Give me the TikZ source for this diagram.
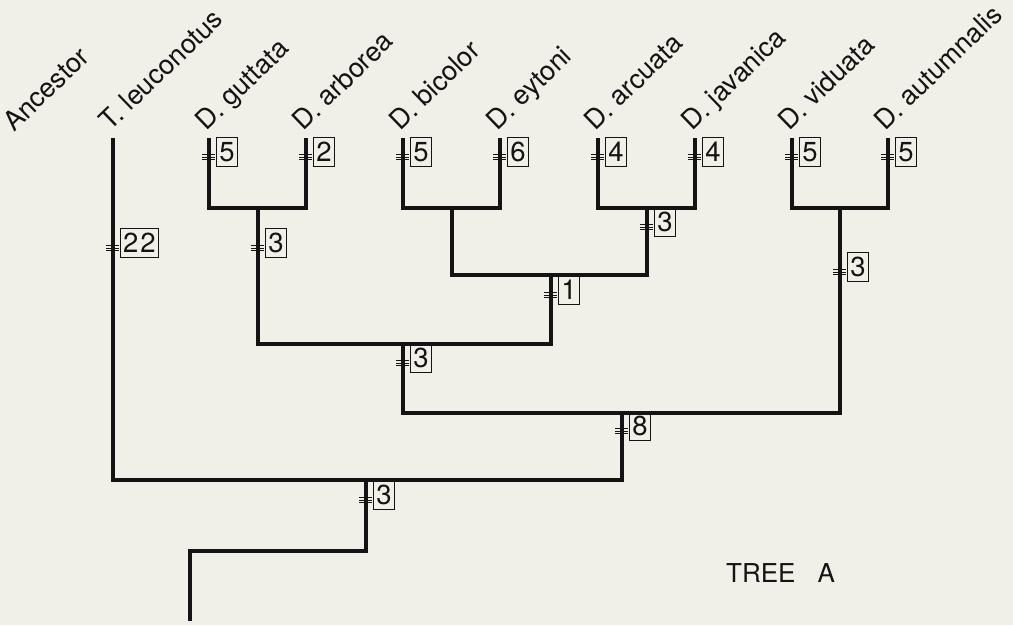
\documentclass[tikz,border=0pt]{standalone}
\usepackage{fontspec}
\setmainfont{TeX Gyre Heros}
\definecolor{paper}{RGB}{240,239,232}
\definecolor{ink}{RGB}{20,20,20}
\newcommand\chgbox[4]{%
  \node[cbox] (#1) at ({#2+7},{#3}) {#4};
  \draw[tickmark] ({#2-7},{#3+17.5}) -- ({#2+6},{#3+17.5});
  \draw[tickmark] ({#2-7},{#3+20.2}) -- ({#2+6},{#3+20.2});
  \draw[tickmark] ({#2-7},{#3+22.9}) -- ({#2+6},{#3+22.9});
}
\begin{document}
\begin{tikzpicture}[x=1pt,y=-1pt,
  branch/.style={draw=ink,line width=3.8pt,line cap=butt,line join=miter},
  cbox/.style={draw=ink,line width=1pt,anchor=north west,minimum width=21pt,minimum height=29pt,inner xsep=2.6pt,inner ysep=3pt,text=ink,font=\fontsize{27.5}{30}\selectfont},
  tickmark/.style={draw=ink,line width=0.9pt},
  lbl/.style={rotate=44,anchor=base west,inner sep=0pt,text=ink,font=\fontsize{27}{30}\selectfont}]
\fill[paper] (0,0) rectangle (1013,625);
\useasboundingbox (0,0) rectangle (1013,625);
% leaf tops
\coordinate (lT) at (113,138);
\coordinate (lG) at (209,138);
\coordinate (lA) at (306,138);
\coordinate (lB) at (403,138);
\coordinate (lE) at (500,138);
\coordinate (lC) at (598,138);
\coordinate (lJ) at (695,138);
\coordinate (lV) at (792,138);
\coordinate (lU) at (888,138);
% junctions
\coordinate (jGA) at (258,208);
\coordinate (jBE) at (452,208);
\coordinate (jAJ) at (647,208);
\coordinate (jVA) at (840,208);
\coordinate (jBA) at (551,275);
\coordinate (j3) at (403,344);
\coordinate (j8) at (622,413);
\coordinate (j0) at (366,480);
\coordinate (jR) at (190,551);
\coordinate (root) at (190,621);
% branches
\draw[branch] (lG) |- (jGA) -| (lA);
\draw[branch] (lB) |- (jBE) -| (lE);
\draw[branch] (lC) |- (jAJ) -| (lJ);
\draw[branch] (lV) |- (jVA) -| (lU);
\draw[branch] (jBE) |- (jBA) -| (jAJ);
\draw[branch] (jGA) |- (j3) -| (jBA);
\draw[branch] (j3) |- (j8) -| (jVA);
\draw[branch] (lT) |- (j0) -| (j8);
\draw[branch] (root) -- (jR) -| (j0);
% labels
\node[lbl] (nAnc) at (14,133) {Ancestor};
\node[lbl] (nT) at (110,132) {T. leuconotus};
\node[lbl] (nG) at (206,132) {D. guttata};
\node[lbl] (nA) at (303,132) {D. arborea};
\node[lbl] (nB) at (400,132) {D. bicolor};
\node[lbl] (nE) at (497,132) {D. eytoni};
\node[lbl] (nC) at (595,132) {D. arcuata};
\node[lbl] (nJ) at (692,132) {D. javanica};
\node[lbl] (nV) at (789,132) {D. viduata};
\node[lbl] (nU) at (885,132) {D. autumnalis};
% character-change boxes
\chgbox{bG}{209}{137}{5}
\chgbox{bA}{306}{137}{2}
\chgbox{bB}{403}{137}{5}
\chgbox{bE}{500}{137}{6}
\chgbox{bC}{598}{137}{4}
\chgbox{bJ}{695}{137}{4}
\chgbox{bV}{792}{137}{5}
\chgbox{bU}{888}{137}{5}
\chgbox{bT}{113}{228}{2\kern2pt 2}
\chgbox{bGA}{258}{228}{3}
\chgbox{bAJ}{647}{207}{3}
\chgbox{bVA}{840}{252}{3}
\chgbox{bBA}{551}{275}{1}
\chgbox{b3}{403}{343}{3}
\chgbox{b8}{622}{411}{8}
\chgbox{b0}{366}{480}{3}
% title
\node[anchor=base west,inner sep=0pt,text=ink,font=\fontsize{26}{30}\selectfont] (title) at (726,582) {TREE\hspace{22pt}A};
\end{tikzpicture}
\end{document}
